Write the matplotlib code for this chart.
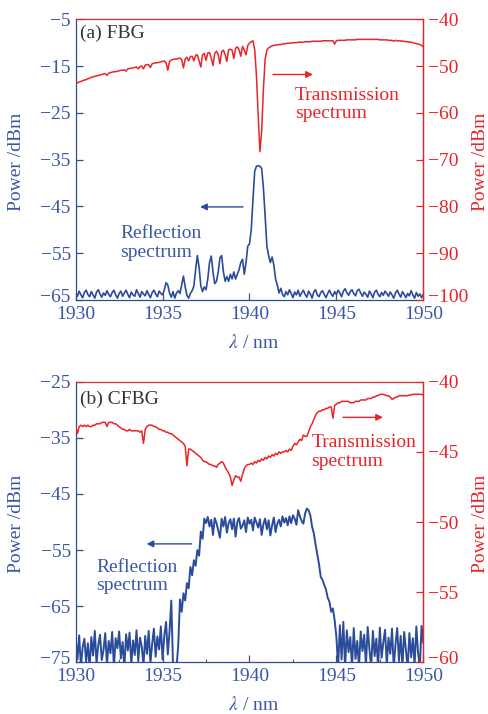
import numpy as np
import matplotlib
matplotlib.use("Agg")
import matplotlib.pyplot as plt
import matplotlib.transforms as mtransforms

plt.rcParams["font.family"] = ["Liberation Serif", "DejaVu Serif"]
plt.rcParams["mathtext.fontset"] = "stix"

BLUE = "#2b4c9b"
BLUE_TXT = "#3a56a6"
RED = "#e8242b"
GRAY = "#555555"

# wavelength grid of the spectra (nm)
wl_start = 1930.0
wl_step = 0.1

# (a) FBG transmission, right axis (dBm), one row per nm
fbg_trans = [
    -53.8, -53.6, -53.4, -53.3, -53.1, -53.0, -52.9, -52.7, -52.6, -52.4,
    -52.3, -52.2, -52.1, -52.0, -51.9, -51.8, -51.7, -51.6, -52.0, -51.5,
    -51.4, -51.3, -51.2, -51.2, -51.1, -51.0, -50.9, -50.9, -50.8, -51.1,
    -50.6, -50.5, -50.5, -50.4, -50.3, -50.2, -50.6, -50.1, -50.0, -50.6,
    -49.8, -49.7, -49.7, -50.3, -49.5, -49.4, -49.3, -49.3, -49.2, -49.1,
    -49.0, -48.9, -49.3, -50.9, -49.0, -48.7, -48.6, -48.5, -48.5, -48.4,
    -48.3, -48.6, -50.4, -48.5, -48.1, -48.9, -48.0, -47.9, -48.9, -47.7,
    -47.6, -48.9, -50.2, -47.6, -47.3, -48.8, -47.2, -47.1, -48.3, -49.9,
    -47.3, -46.8, -47.5, -49.5, -46.9, -46.6, -47.6, -49.0, -46.5, -46.4,
    -46.6, -48.4, -46.2, -45.9, -46.5, -47.9, -45.8, -46.6, -47.6, -45.6,
    -45.1, -44.8, -44.6, -46.5, -52.0, -60.5, -68.3, -64.0, -55.0, -48.5,
    -46.6, -46.1, -45.9, -45.7, -45.6, -45.5, -45.5, -45.4, -45.4, -45.3,
    -45.2, -45.2, -45.1, -45.1, -45.1, -45.0, -45.0, -45.0, -44.9, -44.9,
    -44.9, -44.9, -44.8, -44.8, -44.8, -44.8, -44.7, -44.7, -44.7, -44.7,
    -44.7, -44.7, -44.6, -44.6, -44.6, -44.6, -44.6, -44.6, -44.6, -45.3,
    -44.6, -44.5, -44.5, -44.5, -44.5, -44.5, -44.4, -44.4, -44.4, -44.4,
    -44.4, -44.4, -44.3, -44.3, -44.3, -44.3, -44.3, -44.3, -44.3, -44.3,
    -44.3, -44.3, -44.3, -44.3, -44.3, -44.4, -44.4, -44.4, -44.4, -44.4,
    -44.5, -44.5, -44.5, -44.7, -44.5, -44.6, -44.6, -44.6, -44.7, -44.7,
    -44.8, -44.8, -44.9, -44.9, -45.0, -45.1, -45.2, -45.3, -45.4, -45.6,
    -45.9,
]

# (a) FBG reflection, left axis (dBm)
fbg_refl = [
    -63.6, -64.2, -63.1, -63.9, -64.5, -63.4, -62.9, -63.8, -64.3, -63.2,
    -63.9, -64.6, -63.3, -62.8, -63.7, -64.4, -63.5, -64.0, -63.0, -63.8,
    -64.3, -63.4, -62.9, -63.9, -64.6, -63.6, -63.1, -64.2, -63.5, -62.9,
    -63.8, -64.5, -63.3, -63.9, -64.2, -62.8, -63.6, -64.4, -63.2, -63.7,
    -64.1, -63.0, -63.8, -64.5, -63.4, -62.9, -63.7, -64.3, -63.1, -63.6,
    -63.9, -62.8, -61.3, -61.8, -63.5, -64.4, -63.2, -64.6, -63.5, -63.0,
    -63.6, -61.8, -59.9, -62.2, -64.0, -64.6, -63.6, -63.0, -62.0, -58.5,
    -55.5, -58.0, -62.0, -63.2, -62.2, -62.8, -60.5, -57.0, -55.6, -59.0,
    -61.5, -61.0, -59.0, -56.0, -55.5, -59.0, -61.0, -60.0, -61.0, -59.5,
    -60.5, -59.0, -60.5, -59.5, -58.5, -57.0, -56.3, -59.5, -57.0, -53.5,
    -53.0, -50.0, -43.5, -37.5, -36.4, -36.3, -36.4, -36.9, -41.0, -47.0,
    -53.5, -55.5, -57.0, -55.8, -57.5, -60.5, -61.8, -63.5, -62.5, -63.8,
    -64.3, -63.2, -63.9, -62.8, -63.6, -64.5, -63.3, -63.9, -62.9, -64.2,
    -63.5, -62.9, -63.8, -64.4, -63.1, -63.7, -64.6, -63.3, -62.8, -63.9,
    -64.3, -63.4, -63.0, -63.8, -64.5, -63.6, -62.9, -63.7, -64.2, -63.2,
    -63.8, -62.9, -63.5, -64.3, -63.1, -62.6, -63.4, -64.0, -63.2, -62.8,
    -63.6, -64.1, -63.0, -62.7, -63.5, -64.2, -63.3, -63.8, -64.4, -63.1,
    -63.7, -64.5, -63.3, -62.9, -63.8, -64.3, -63.4, -64.0, -63.1, -63.6,
    -64.2, -63.3, -63.9, -64.6, -63.5, -62.9, -63.7, -64.4, -63.2, -63.8,
    -64.5, -63.6, -64.1, -63.0, -63.9, -64.6, -63.4, -64.2, -63.7, -64.5,
    -63.8,
]

# (b) CFBG transmission, right axis (dBm)
cfbg_trans = [
    -43.2, -43.7, -43.2, -43.1, -43.2, -43.1, -43.2, -43.1, -43.2, -43.2,
    -43.1, -43.1, -43.0, -43.0, -43.0, -42.9, -42.9, -42.9, -43.2, -42.9,
    -42.9, -42.9, -43.0, -43.0, -43.1, -43.2, -43.3, -43.4, -43.4, -43.5,
    -43.5, -43.4, -43.5, -43.5, -43.5, -43.5, -43.5, -43.6, -43.5, -44.4,
    -43.4, -43.2, -43.1, -43.1, -43.1, -43.2, -43.2, -43.3, -43.4, -43.4,
    -43.5, -43.5, -43.6, -43.6, -43.7, -43.7, -43.8, -43.9, -44.0, -44.1,
    -44.2, -44.3, -44.4, -44.6, -46.0, -44.8, -44.8, -44.9, -45.0, -45.1,
    -45.2, -45.3, -45.4, -45.6, -45.7, -45.7, -45.8, -45.9, -45.9, -46.0,
    -46.0, -46.1, -45.9, -45.8, -45.7, -45.8, -46.1, -46.3, -46.5, -46.8,
    -47.4, -47.0, -46.7, -46.8, -46.8, -47.1, -46.6, -46.2, -46.0, -45.9,
    -45.9, -45.8, -45.9, -45.7, -45.8, -45.6, -45.7, -45.5, -45.6, -45.4,
    -45.5, -45.3, -45.4, -45.2, -45.3, -45.1, -45.2, -45.0, -45.1, -45.0,
    -45.0, -44.9, -45.0, -44.8, -44.9, -44.6, -44.4, -44.5, -44.3, -44.1,
    -44.2, -43.8, -43.9, -43.9, -43.6, -43.2, -43.0, -42.7, -42.4, -42.2,
    -42.1, -42.1, -42.0, -42.0, -41.9, -41.9, -41.8, -41.8, -42.6, -41.7,
    -41.6, -41.5, -41.5, -41.4, -41.4, -41.4, -41.4, -41.4, -41.5, -41.5,
    -41.5, -41.4, -41.4, -41.4, -41.3, -41.3, -41.3, -41.3, -41.2, -41.2,
    -41.2, -41.1, -41.1, -41.0, -41.0, -40.9, -40.9, -40.9, -40.95, -41.0,
    -41.0, -41.1, -41.25, -41.2, -41.1, -41.1, -41.0, -41.0, -41.0, -41.0,
    -41.0, -41.0, -40.95, -40.95, -40.9, -40.9, -40.9, -40.9, -40.9, -40.9,
    -40.95,
]

# (b) CFBG reflection, left axis (dBm)
cfbg_refl = [
    -71.0, -74.5, -70.2, -75.8, -72.3, -70.8, -74.9, -71.6, -76.0, -70.5,
    -73.8, -69.4, -75.2, -71.9, -70.1, -74.6, -72.8, -69.8, -75.5, -71.2,
    -73.4, -69.6, -75.9, -70.7, -72.5, -69.5, -74.3, -71.4, -76.0, -70.0,
    -72.9, -69.7, -75.4, -71.1, -73.7, -69.3, -74.8, -70.6, -72.2, -75.6,
    -70.3, -73.5, -69.4, -75.1, -71.7, -69.0, -74.0, -70.4, -72.7, -68.6,
    -74.5, -70.2, -67.8, -73.6, -69.5, -64.0, -75.5, -76.0, -76.0, -72.0,
    -63.8, -66.0, -62.7, -64.0, -60.9, -61.8, -58.0, -59.5, -56.8, -57.8,
    -55.0, -56.0, -51.7, -53.0, -49.4, -50.2, -49.1, -50.8, -49.6, -52.3,
    -49.3, -50.2, -51.5, -52.8, -49.4, -50.8, -49.1, -51.9, -50.2, -49.5,
    -51.3, -49.4, -52.6, -50.0, -49.3, -51.2, -50.6, -49.7, -51.8, -49.2,
    -50.3, -49.6, -51.5, -49.2, -50.1, -51.0, -49.5, -52.3, -50.4, -49.4,
    -51.3, -49.7, -52.4, -50.6, -49.2, -51.8, -50.3, -49.6, -50.8, -49.0,
    -50.1, -49.3, -50.6, -49.0, -50.2, -48.8, -49.4, -50.5, -47.9, -49.0,
    -49.8, -50.3, -48.5, -47.6, -47.9, -48.8, -50.8, -52.0, -54.0, -55.8,
    -57.5, -59.8, -60.3, -61.2, -62.0, -63.5, -64.2, -66.0, -65.4, -67.5,
    -70.5, -76.0, -68.4, -74.5, -67.8, -76.0, -69.3, -73.2, -70.5, -76.0,
    -68.9, -74.4, -71.2, -76.0, -69.5, -73.0, -70.1, -75.6, -68.7, -72.6,
    -75.9, -69.4, -73.9, -70.8, -76.0, -68.8, -74.2, -71.5, -69.2, -75.4,
    -70.6, -73.5, -69.0, -76.0, -71.8, -68.9, -74.8, -70.3, -75.7, -69.6,
    -72.9, -76.0, -69.8, -74.1, -70.7, -75.5, -68.6, -73.3, -76.0, -68.5,
    -71.5,
]

x_ticks = [1930, 1935, 1940, 1945, 1950]
panels = [
    {
        "refl": fbg_refl, "trans": fbg_trans, "title": "(a) FBG",
        "ylim_l": (-65, -5), "yticks_l": [-65, -55, -45, -35, -25, -15, -5],
        "ylim_r": (-100, -40), "yticks_r": [-100, -90, -80, -70, -60, -50, -40],
        "t_text": (1942.6, -58.2), "t_arrow": ((1941.35, -51.8), (1943.65, -51.8)),
        "r_text": (1932.55, -52.8), "r_arrow": ((1939.63, -45.1), (1937.16, -45.1)),
        "title_y": 0.951, "minor": False, "lw_refl": 1.2,
    },
    {
        "refl": cfbg_refl, "trans": cfbg_trans, "title": "(b) CFBG",
        "ylim_l": (-75, -25), "yticks_l": [-75, -65, -55, -45, -35, -25],
        "ylim_r": (-60, -40), "yticks_r": [-60, -55, -50, -45, -40],
        "t_text": (1943.55, -45.0), "t_arrow": ((1945.38, -42.54), (1947.68, -42.54)),
        "r_text": (1931.2, -59.7), "r_arrow": ((1936.67, -53.9), (1934.08, -53.9)),
        "title_y": 0.937, "minor": True, "lw_refl": 1.4,
    },
]

fig = plt.figure(figsize=(4.88, 7.14), dpi=100)
axes_rects = [[0.1551, 0.5798, 0.7123, 0.3932], [0.1551, 0.0724, 0.7123, 0.3930]]
ylabel_y = [0.7735, 0.267]
xlabel_y = [0.5196, 0.012]
# lift the lowest y tick label a little, as in the original
lift = mtransforms.ScaledTranslation(0, 5 / 100, fig.dpi_scale_trans)

for i, p in enumerate(panels):
    ax = fig.add_axes(axes_rects[i])
    ax2 = ax.twinx()
    wl = wl_start + wl_step * np.arange(len(p["refl"]))

    ax.plot(wl, p["refl"], color=BLUE, lw=p["lw_refl"])
    ax2.plot(wl, p["trans"], color=RED, lw=1.1)

    ax.set_xlim(1930, 1950)
    ax.set_ylim(*p["ylim_l"])
    ax2.set_ylim(*p["ylim_r"])
    ax.set_xticks(x_ticks)
    ax.set_yticks(p["yticks_l"])
    ax2.set_yticks(p["yticks_r"])
    if p["minor"]:
        ax.set_xticks([1932.5, 1937.5, 1942.5, 1947.5], minor=True)

    ax.tick_params(axis="x", which="major", direction="in", length=5, width=0.9,
                   color=GRAY, labelcolor=BLUE_TXT, labelsize=14, pad=4)
    ax.tick_params(axis="x", which="minor", direction="in", length=2.5, width=0.8,
                   color=GRAY)
    ax.tick_params(axis="y", direction="in", length=4.8, width=0.9,
                   color=BLUE, labelcolor=BLUE_TXT, labelsize=14, pad=3.5)
    ax2.tick_params(axis="y", direction="in", length=4.8, width=0.9,
                    color=RED, labelcolor=RED, labelsize=14, pad=3.5)

    for t in (ax.yaxis.get_major_ticks()[0].label1,
              ax2.yaxis.get_major_ticks()[0].label2):
        t.set_transform(t.get_transform() + lift)

    for s in ["left", "bottom"]:
        ax.spines[s].set_color(BLUE)
    for s in ["top", "right"]:
        ax.spines[s].set_color(RED)
    for s in ["left", "bottom", "top"]:
        ax2.spines[s].set_visible(False)
    ax2.spines["right"].set_color(RED)
    for a in (ax, ax2):
        for s in a.spines.values():
            s.set_linewidth(0.9)

    ax.text(0.012, p["title_y"], p["title"], transform=ax.transAxes,
            fontsize=14, color="#333333", ha="left", va="center")

    # labels and arrows on the transmission (right) scale
    ax2.text(*p["t_text"], "Transmission\nspectrum", color=RED, fontsize=14,
             ha="left", va="center", linespacing=1.1)
    ax2.annotate("", xy=p["t_arrow"][1], xytext=p["t_arrow"][0],
                 arrowprops=dict(arrowstyle="-|>", color=RED, lw=1.0,
                                 mutation_scale=10, shrinkA=0, shrinkB=0))
    # labels and arrows on the reflection (left) scale, drawn above the red line
    ax2.text(*p["r_text"], "Reflection\nspectrum", transform=ax.transData,
             color=BLUE_TXT, fontsize=14, ha="left", va="center", linespacing=1.1)
    ax2.annotate("", xy=p["r_arrow"][1], xytext=p["r_arrow"][0],
                 xycoords=ax.transData, textcoords=ax.transData,
                 arrowprops=dict(arrowstyle="-|>", color=BLUE, lw=1.0,
                                 mutation_scale=10, shrinkA=0, shrinkB=0))

    fig.text(0.034, ylabel_y[i], "Power /dBm", rotation=90, color=BLUE_TXT,
             fontsize=14, ha="center", va="center")
    fig.text(0.984, ylabel_y[i], "Power /dBm", rotation=90, color=RED,
             fontsize=14, ha="center", va="center")
    fig.text(0.5196, xlabel_y[i], r"$\lambda$ / nm", color=BLUE_TXT,
             fontsize=14, ha="center", va="center")

fig.savefig("out.png", dpi=100)
